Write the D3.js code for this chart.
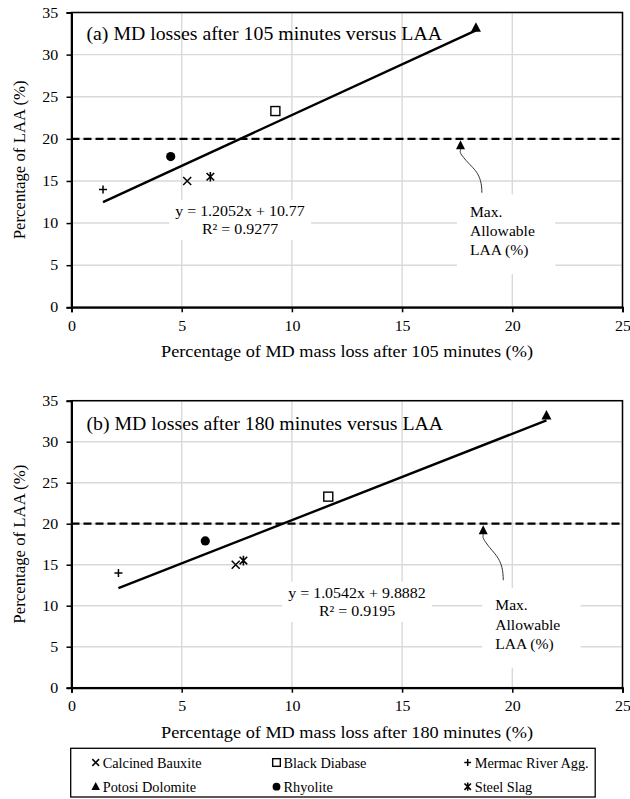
<!DOCTYPE html>
<html>
<head>
<meta charset="utf-8">
<script src="https://cdn.jsdelivr.net/npm/d3@7"></script>
<style>
  html, body { margin: 0; padding: 0; background: #fff; }
  svg { display: block; }
  text { font-family: "Liberation Serif", "Times New Roman", serif; fill: #000; }
</style>
</head>
<body>
<svg id="chart" width="630" height="799"></svg>
<script>
// Aggregates and their test results
const materials = ["Calcined Bauxite", "Black Diabase", "Mermac River Agg.", "Potosi Dolomite", "Rhyolite", "Steel Slag"];
const symbols   = ["cross", "square", "plus", "triangle", "circle", "star"];
const laa       = [15.0, 23.3, 14.0, 33.2, 17.9, 15.5];   // LA abrasion loss (%)
const md105     = [5.25, 9.25, 1.43, 18.35, 4.50, 6.30];  // Micro-Deval loss after 105 min (%)
const md180     = [7.45, 11.65, 2.13, 21.55, 6.07, 7.80]; // Micro-Deval loss after 180 min (%)

// Linear fits reported on each panel
const fitSlope     = [1.2052, 1.0542];
const fitIntercept = [10.77, 9.8882];
const fitR2        = ["0.9277", "0.9195"];

const panelTitles = ["(a) MD losses after 105 minutes versus LAA", "(b) MD losses after 180 minutes versus LAA"];
const xTitles     = ["Percentage of MD mass loss after 105 minutes (%)", "Percentage of MD mass loss after 180 minutes (%)"];
const yTitle      = "Percentage of LAA (%)";
const xTicks      = [0, 5, 10, 15, 20, 25];
const yTicks      = [0, 5, 10, 15, 20, 25, 30, 35];
const maxAllowableLAA = 20;
const limitLabel  = ["Max.", "Allowable", "LAA (%)"];
// arrow tip (x on the limit line) and tail point, per panel, in data units
const arrowTipX   = [17.65, 18.68];
const arrowTail   = [[18.62, 13.6], [19.59, 13.1]];

const svg = d3.select("#chart");
const SX = 1.1; // horizontal stretch applied to chart lettering

const panels = [
  { xs: md105, top: 12.5, bottom: 307.3, titleDy: 27, eqY: 10.83, eqX: 240, labDx: -12, labDy: 24 },
  { xs: md180, top: 400.7, bottom: 687.7, titleDy: 29.3, eqY: 10.94, eqX: 357, labDx: -8, labDy: 30 }
];
const left = 71.5, right = 622.5;

function htext(g, x, y, str, size, anchor) {
  return g.append("text").attr("transform", `translate(${x},${y}) scale(${SX},1)`)
    .attr("text-anchor", anchor || "start").style("font-size", size + "px").text(str);
}

function drawMarker(g, type, cx, cy, s) {
  const k = s / 10;
  if (type === "cross") {
    g.append("path").attr("d", `M${cx-4*k},${cy-4*k}L${cx+4*k},${cy+4*k}M${cx-4*k},${cy+4*k}L${cx+4*k},${cy-4*k}`)
      .attr("stroke", "#000").attr("stroke-width", 1.5).attr("fill", "none");
  } else if (type === "square") {
    g.append("rect").attr("x", cx-4.5*k).attr("y", cy-4.5*k).attr("width", 9*k).attr("height", 9*k)
      .attr("fill", "#fff").attr("stroke", "#000").attr("stroke-width", 1.4);
  } else if (type === "plus") {
    g.append("path").attr("d", `M${cx-4*k},${cy}L${cx+4*k},${cy}M${cx},${cy-4*k}L${cx},${cy+4*k}`)
      .attr("stroke", "#000").attr("stroke-width", 1.5).attr("fill", "none");
  } else if (type === "triangle") {
    g.append("path").attr("d", `M${cx},${cy-5.5*k}L${cx+5*k},${cy+4*k}L${cx-5*k},${cy+4*k}Z`).attr("fill", "#000");
  } else if (type === "circle") {
    g.append("circle").attr("cx", cx).attr("cy", cy).attr("r", 4.6*k).attr("fill", "#000");
  } else if (type === "star") {
    g.append("path").attr("d", `M${cx-3.8*k},${cy-3.8*k}L${cx+3.8*k},${cy+3.8*k}M${cx-3.8*k},${cy+3.8*k}L${cx+3.8*k},${cy-3.8*k}M${cx},${cy-4.8*k}L${cx},${cy+4.8*k}`)
      .attr("stroke", "#000").attr("stroke-width", 1.6).attr("fill", "none");
  }
}

panels.forEach((p, i) => {
  const x = d3.scaleLinear().domain([0, 25]).range([left, right]);
  const y = d3.scaleLinear().domain([0, 35]).range([p.bottom, p.top]);
  const g = svg.append("g");

  // grid
  g.append("g").selectAll("line").data(yTicks).join("line")
    .attr("x1", left).attr("x2", right).attr("y1", d => y(d)).attr("y2", d => y(d))
    .attr("stroke", "#d9d9d9").attr("stroke-width", 1.4);
  g.append("g").selectAll("line").data(xTicks).join("line")
    .attr("x1", d => x(d)).attr("x2", d => x(d)).attr("y1", p.top).attr("y2", p.bottom)
    .attr("stroke", "#d9d9d9").attr("stroke-width", 1.4);

  // plot frame
  g.append("rect").attr("x", left).attr("y", p.top).attr("width", right - left).attr("height", p.bottom - p.top)
    .attr("fill", "none").attr("stroke", "#000").attr("stroke-width", 1.5);

  // axes
  const xAxis = d3.axisBottom(x).tickValues(xTicks).tickSize(5).tickPadding(8).tickFormat(d3.format("d"));
  const yAxis = d3.axisLeft(y).tickValues(yTicks).tickSize(5).tickPadding(7).tickFormat(d3.format("d"));
  const gx = g.append("g").attr("transform", `translate(0,${p.bottom})`).call(xAxis);
  const gy = g.append("g").attr("transform", `translate(${left},0)`).call(yAxis);
  [gx, gy].forEach(a => {
    a.select(".domain").attr("stroke", "#000").attr("stroke-width", 2);
    a.selectAll(".tick line").attr("stroke", "#000").attr("stroke-width", 1.5);
    a.selectAll(".tick text").style("font-family", "Liberation Serif").style("font-size", "14.5px")
      .attr("fill", "#000").attr("transform", `scale(${SX},1)`);
  });

  // axis titles
  htext(g, (left + right) / 2, p.bottom + 50, xTitles[i], 16.6, "middle");
  g.append("text").attr("transform", `translate(24.5,${(p.top + p.bottom) / 2}) rotate(-90)`)
    .attr("text-anchor", "middle").style("font-size", "16.8px").text(yTitle);

  // panel title
  htext(g, left + 15, p.top + p.titleDy, panelTitles[i], 18);

  // limit line
  g.append("line").attr("x1", left).attr("x2", right)
    .attr("y1", y(maxAllowableLAA)).attr("y2", y(maxAllowableLAA))
    .attr("stroke", "#000").attr("stroke-width", 2.3).attr("stroke-dasharray", "8,4");

  // trend line
  const xs = p.xs;
  const x0 = d3.min(xs), x1 = d3.max(xs);
  const f = v => fitSlope[i] * v + fitIntercept[i];
  g.append("line").attr("x1", x(x0)).attr("y1", y(f(x0))).attr("x2", x(x1)).attr("y2", y(f(x1)))
    .attr("stroke", "#000").attr("stroke-width", 2.4);

  // equation label
  const eqG = g.append("g");
  const eqBg = eqG.append("rect").attr("fill", "#fff");
  const eqT = eqG.append("g");
  htext(eqT, p.eqX, y(p.eqY), `y = ${fitSlope[i]}x + ${fitIntercept[i]}`, 14.5, "middle");
  htext(eqT, p.eqX, y(p.eqY) + 18, `R² = ${fitR2[i]}`, 14.5, "middle");
  const bb = eqT.node().getBBox();
  eqBg.attr("x", bb.x - 6).attr("y", bb.y - 3).attr("width", bb.width + 12).attr("height", bb.height + 6);

  // limit annotation
  const tip = [x(arrowTipX[i]), y(maxAllowableLAA) + 1.5];
  const tail = [x(arrowTail[i][0]), y(arrowTail[i][1])];
  const annG = g.append("g");
  const annBg = annG.append("rect").attr("fill", "#fff");
  const lab = annG.append("text")
    .attr("transform", `translate(${tail[0] + p.labDx},${tail[1] + p.labDy}) scale(${SX},1)`)
    .style("font-size", "14.2px");
  limitLabel.forEach((s, j) => lab.append("tspan").attr("x", 0).attr("dy", j === 0 ? 0 : 19.3).text(s));
  const lb = lab.node().getBBox();
  const lx = tail[0] + p.labDx, ly = tail[1] + p.labDy;
  annBg.attr("x", lx - 13).attr("y", ly + lb.y - 10)
    .attr("width", lb.width * SX + 33).attr("height", lb.height + 25);
  const baseY = tip[1] + 9;
  const dx = tail[0] - tip[0], dy = tail[1] - baseY;
  annG.append("path")
    .attr("d", `M${tail[0]},${tail[1]}C${tail[0]},${tail[1] - dy * 0.45} ${tip[0] + dx * 0.6},${baseY + dy * 0.45} ${tip[0] + dx * 0.25},${baseY + dy * 0.25}S${tip[0]},${baseY + 3} ${tip[0]},${baseY}`)
    .attr("fill", "none").attr("stroke", "#333").attr("stroke-width", 1);
  annG.append("path").attr("d", `M${tip[0]},${tip[1]}L${tip[0] + 4.5},${baseY}L${tip[0] - 4.5},${baseY}Z`).attr("fill", "#000");

  // data points
  const pts = g.append("g");
  xs.forEach((v, j) => drawMarker(pts, symbols[j], x(v), y(laa[j]), 10));
});

// legend
const lg = svg.append("g");
lg.append("rect").attr("x", 70.7).attr("y", 748.3).attr("width", 524.5).attr("height", 48.7)
  .attr("fill", "#fff").attr("stroke", "#000").attr("stroke-width", 1.3);
const colX = [95.7, 276.5, 467.7];
const rowY = [762.5, 786.7];
materials.forEach((m, j) => {
  const cx = colX[j % 3], cy = rowY[Math.floor(j / 3)];
  drawMarker(lg, symbols[j], cx, cy, 8.5);
  lg.append("text").attr("x", cx + 7).attr("y", cy + 5).style("font-size", "14.3px").text(m);
});
</script>
</body>
</html>
